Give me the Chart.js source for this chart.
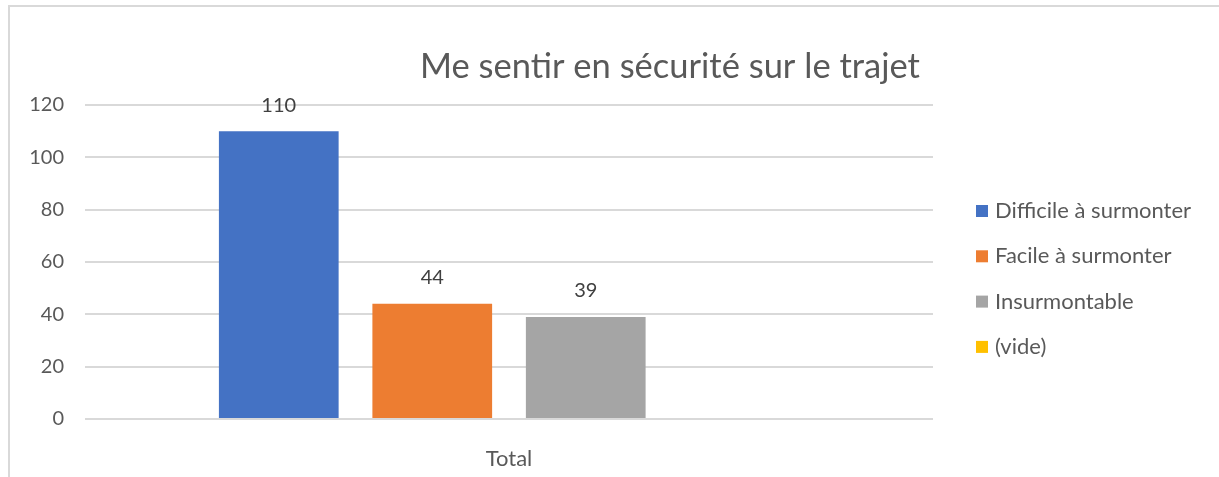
<!DOCTYPE html>
<html>
<head>
<meta charset="utf-8">
<script src="https://cdn.jsdelivr.net/npm/chart.js@4.4.0/dist/chart.umd.min.js"></script>
<style>
  body { margin: 0; background: #fff; }
  canvas { display: block; }
</style>
</head>
<body>
<canvas id="chart1" width="1219" height="477"></canvas>
<script>

// donnees du graphique
var categories = ['Total'];
var seriesNames = ['Difficile à surmonter', 'Facile à surmonter', 'Insurmontable', '(vide)'];
var seriesValues = [[110], [44], [39], [null]];
var seriesColors = ['#4472C4', '#ED7D31', '#A5A5A5', '#FFC000'];
var yTicks = [0, 20, 40, 60, 80, 100, 120];
var titre = 'Me sentir en sécurité sur le trajet';

var police = 'Lato, "Open Sans", sans-serif';
var gris = '#595959';


// cadre gris + titre
const cadre = {
  id: 'cadre',
  beforeDraw(chart) {
    const ctx = chart.ctx;
    ctx.save();
    ctx.fillStyle = '#fff';
    ctx.fillRect(0, 0, chart.width, chart.height);
    ctx.strokeStyle = '#d9d9d9';
    ctx.lineWidth = 2;
    ctx.beginPath();
    ctx.moveTo(9, chart.height);
    ctx.lineTo(9, 6);
    ctx.lineTo(chart.width, 6);
    ctx.stroke();

    ctx.fillStyle = gris;
    ctx.font = '34.5px ' + police;
    ctx.textAlign = 'center';
    ctx.textBaseline = 'middle';
    ctx.fillText(titre, 670, 67);
    ctx.restore();
  }
};


// etiquettes des valeurs au-dessus des barres
const etiquettes = {
  id: 'etiquettes',
  afterDatasetsDraw(chart) {
    const ctx = chart.ctx;
    ctx.save();
    ctx.fillStyle = '#404040';
    ctx.font = '20px ' + police;
    ctx.textAlign = 'center';
    ctx.textBaseline = 'middle';
    chart.data.datasets.forEach(function(ds, i) {
      const meta = chart.getDatasetMeta(i);
      meta.data.forEach(function(bar, j) {
        const v = ds.data[j];
        if (v === null || v === undefined) return;
        ctx.fillText(v + '', bar.x, bar.y - 26);
      });
    });
    ctx.restore();
  }
};


// legende a droite
const legende = {
  id: 'legende',
  afterDraw(chart) {
    const ctx = chart.ctx;
    ctx.save();
    ctx.font = '22px ' + police;
    ctx.textBaseline = 'middle';
    ctx.textAlign = 'left';
    chart.data.datasets.forEach(function(ds, i) {
      var y = 211 + i * 45.3;
      ctx.fillStyle = ds.backgroundColor;
      ctx.fillRect(976, y - 6, 12, 12);
      ctx.fillStyle = gris;
      ctx.fillText(ds.label, 995, y);
    });
    ctx.restore();
  }
};


function getDatasets() {
  var sets = new Array;
  for (let i = 0; i < seriesNames.length; i++) {
    sets.push({
      label: seriesNames[i],
      data: seriesValues[i],
      backgroundColor: seriesColors[i],
      borderWidth: 0,
      categoryPercentage: 0.724,
      barPercentage: 0.78
    });
  }
  return sets;
}


const ctx1 = document.getElementById('chart1').getContext('2d');
const chart1 = new Chart(ctx1, {
  type: 'bar',
  data: {
    labels: categories,
    datasets: getDatasets()
  },
  plugins: [cadre, etiquettes, legende],
  options: {
    responsive: false,
    animation: false,
    layout: {
      padding: { left: 0, top: 105, right: 286, bottom: 0 }
    },
    plugins: {
      legend: { display: false },
      title: { display: false },
      tooltip: { enabled: false }
    },
    scales: {
      x: {
        grid: { display: false },
        border: { display: false },
        ticks: {
          color: gris,
          font: { family: police, size: 22 },
          padding: 19
        },
        afterFit: function(scale) { scale.height = 58; }
      },
      y: {
        min: 0,
        max: 120,
        afterBuildTicks: function(scale) {
          scale.ticks = yTicks.map(function(v) { return { value: v }; });
        },
        grid: { color: '#d9d9d9', lineWidth: 2, drawTicks: false },
        border: { display: false },
        ticks: {
          color: gris,
          font: { family: police, size: 20 },
          padding: 21
        },
        afterFit: function(scale) { scale.width = 85; }
      }
    }
  }
});

</script>
</body>
</html>
